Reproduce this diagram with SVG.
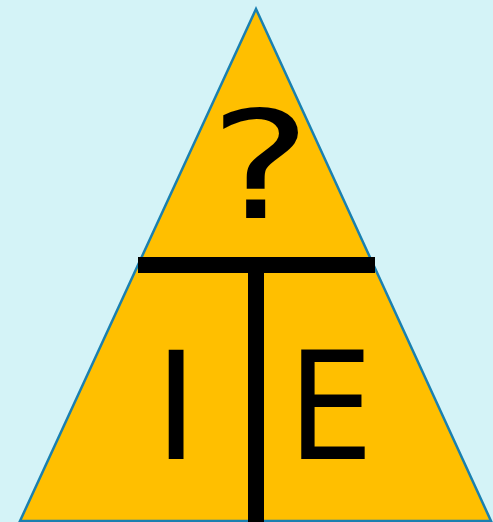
<svg xmlns="http://www.w3.org/2000/svg" width="493" height="522" viewBox="0 0 493 522">
<style>
.lbl{font-family:"DejaVu Sans",sans-serif;font-size:150px;fill:#000}
</style>
<rect width="493" height="522" fill="#d4f3f7"/>
<g id="triangle">
<polygon points="256,9 20,521 491,521" fill="#ffbf00" stroke="#1a80b0" stroke-width="2.5"/>
</g>
<g id="bars">
<rect x="138" y="257" width="237" height="16" fill="#000"/>
<rect x="248" y="265" width="16" height="260" fill="#000"/>
</g>
<g id="q"><text class="lbl" transform="translate(209.5,218) scale(1.28,1)" x="0" y="0">?</text></g>
<g id="i"><text class="lbl" x="176" y="459" text-anchor="middle">I</text></g>
<g id="e"><text class="lbl" x="288" y="459" style="font-family:'DejaVu Sans Condensed','DejaVu Sans',sans-serif">E</text></g>
</svg>
